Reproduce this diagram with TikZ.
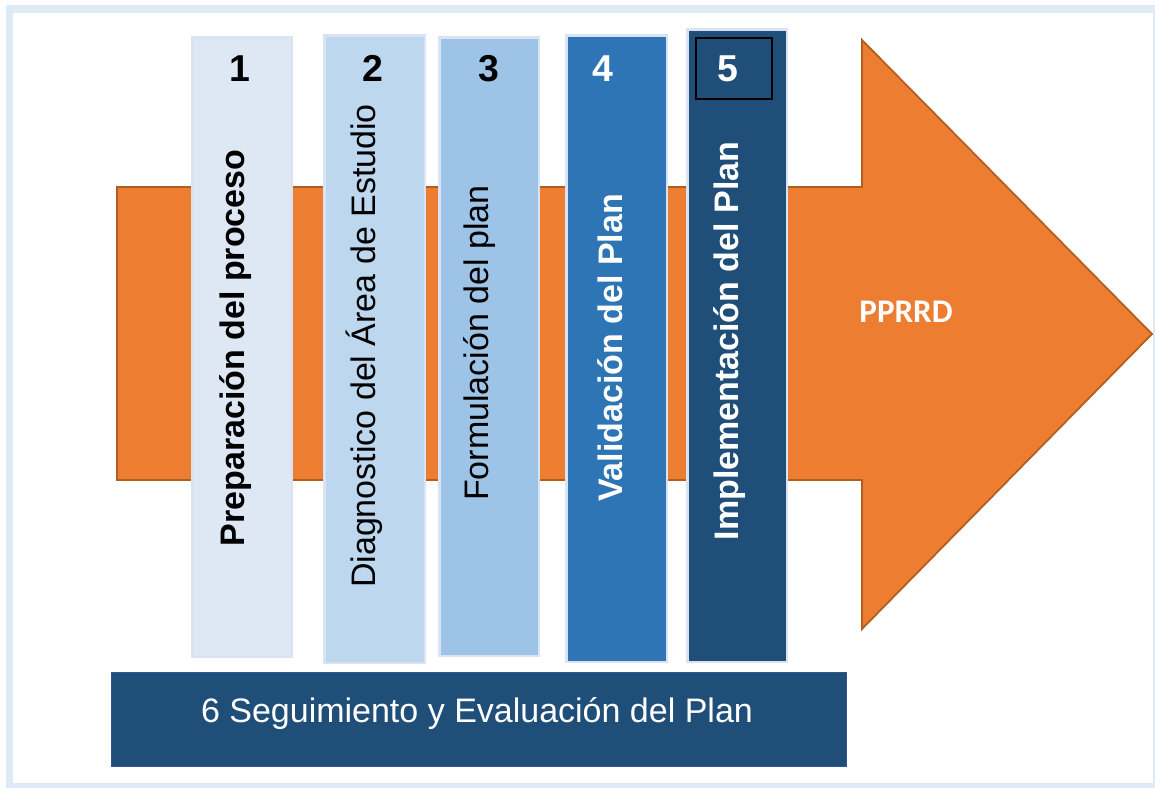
\documentclass[tikz,border=0pt]{standalone}
\usepackage{fontspec}
\setmainfont{Liberation Sans}
\newfontfamily\calibrifont{Carlito}
\usetikzlibrary{positioning}
\definecolor{frameblue}{HTML}{DEEAF6}
\definecolor{arroworange}{HTML}{ED7D31}
\definecolor{arrowedge}{HTML}{B35E21}
\definecolor{stepone}{HTML}{DEE8F5}
\definecolor{steptwo}{HTML}{BDD7EE}
\definecolor{stepthree}{HTML}{9DC3E6}
\definecolor{stepfour}{HTML}{2E75B6}
\definecolor{stepfive}{HTML}{1F4E79}
\definecolor{stepedge}{HTML}{DAE3F3}
\definecolor{baredge}{HTML}{2F5597}

\begin{document}
\begin{tikzpicture}[x=0.02cm, y=-0.02cm,
  stepcol/.style={draw=stepedge, line width=1.4pt, anchor=north west, inner sep=0pt},
  steptext/.style={rotate=90, inner sep=0pt, font=\fontsize{19.35}{22}\selectfont#1},
  stepnum/.style={font=\fontsize{21.3}{24}\selectfont\bfseries}]
  \useasboundingbox (0,0) rectangle (1155,787);
  \draw[frameblue, line width=4.5pt] (9.5,9) rectangle (1157,787);

  \filldraw[fill=arroworange, draw=arrowedge, line width=1pt]
    (117,187) -- (862,187) -- (862,40) -- (1152,334) -- (862,629) -- (862,480) -- (117,480) -- cycle;
  \node[text=white, font=\calibrifont\fontsize{18.8}{22}\selectfont\bfseries] (pprrd) at (906,312) {PPRRD};

  \foreach \n/\xl/\yt/\w/\h/\c/\tc/\wt/\tx/\ty/\nx/\txt in {
      1/190/35/102/622/stepone/black/\bfseries/236/348/240/Preparación del proceso,
      2/322/33/103/630/steptwo/black/\mdseries/364.5/346/373/Diagnostico del Área de Estudio,
      3/437/35/102/621/stepthree/black/\mdseries/479.5/343/489/Formulación del plan,
      4/564/33/103/629/stepfour/white/\bfseries/610/348/603/Validación del Plan,
      5/685/27/102/635/stepfive/white/\bfseries/730/341/728/Implementación del Plan} {
    \node[stepcol, fill=\c, minimum width=(\w-2.5)*0.02cm, minimum height=(\h-2.5)*0.02cm] (col\n) at (\xl+1.25,\yt+1.25) {};
    \node[steptext=\wt, text=\tc] (txt\n) at (\tx,\ty) {\txt};
    \node[stepnum, text=\tc] (num\n) at (\nx,68.5) {\n};
  };
  \node[draw=black, line width=1.1pt, anchor=north west, minimum width=1.52cm, minimum height=1.22cm] (numbox) at (695,37) {};

  \node[fill=stepfive, draw=baredge, line width=0.6pt, anchor=north west, minimum width=14.7cm, minimum height=1.88cm] (bar) at (111,672) {};
  \node[anchor=base, text=white, font=\fontsize{19.35}{22}\selectfont] (bartext) at (477,722) {6 Seguimiento y Evaluación del Plan};
\end{tikzpicture}
\end{document}
